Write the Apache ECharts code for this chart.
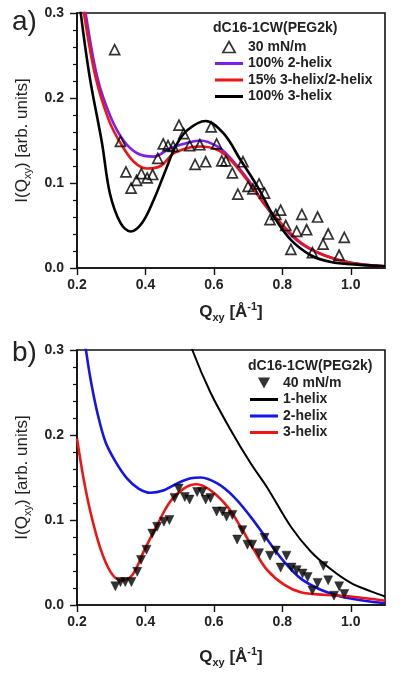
<!DOCTYPE html>
<html>
<head>
<meta charset="utf-8">
<script src="https://cdn.jsdelivr.net/npm/echarts@6/dist/echarts.min.js"></script>
<style>
html,body{margin:0;padding:0;background:#fff;}
#c{width:400px;height:675px;}
</style>
</head>
<body>
<div id="c"></div>
<script>
// ---------- Panel a) data ----------
const xTicks = [0.2, 0.4, 0.6, 0.8, 1.0];
const yTicks = [0.0, 0.1, 0.2, 0.3];
const legendTitle = 'dC16-1CW(PEG2k)';

const a_points30 = [
  [0.310,0.257],[0.327,0.149],[0.343,0.113],[0.358,0.094],[0.374,0.103],[0.388,0.111],
  [0.405,0.106],[0.421,0.110],[0.436,0.129],[0.452,0.146],[0.466,0.144],[0.481,0.143],
  [0.498,0.168],[0.512,0.158],[0.529,0.144],[0.545,0.122],[0.559,0.145],[0.576,0.125],
  [0.592,0.166],[0.608,0.146],[0.623,0.126],[0.635,0.126],[0.654,0.112],[0.670,0.087],
  [0.685,0.125],[0.700,0.096],[0.714,0.093],[0.732,0.099],[0.748,0.088],[0.764,0.057],
  [0.781,0.063],[0.795,0.068],[0.810,0.050],[0.825,0.022],[0.842,0.043],[0.857,0.063],
  [0.871,0.045],[0.888,0.018],[0.903,0.060],[0.919,0.028],[0.934,0.040],[0.966,0.015],
  [0.981,0.036]
];
const a_helix2 = [
  [0.200,0.370],[0.224,0.303],[0.259,0.225],[0.298,0.178],[0.336,0.150],[0.376,0.135],
  [0.424,0.131],[0.473,0.141],[0.522,0.147],[0.560,0.150],[0.610,0.143],[0.649,0.129],
  [0.698,0.105],[0.746,0.076],[0.795,0.051],[0.854,0.029],[0.922,0.015],[1.000,0.006],
  [1.100,0.002]
];
const a_mix15 = [
  [0.200,0.360],[0.219,0.303],[0.254,0.225],[0.293,0.174],[0.327,0.147],[0.366,0.125],
  [0.405,0.117],[0.444,0.120],[0.483,0.135],[0.532,0.142],[0.561,0.143],[0.610,0.139],
  [0.649,0.127],[0.698,0.103],[0.746,0.076],[0.795,0.053],[0.854,0.030],[0.922,0.015],
  [1.000,0.006],[1.100,0.002]
];
const a_helix3 = [
  [0.200,0.345],[0.210,0.303],[0.237,0.225],[0.273,0.147],[0.296,0.088],[0.327,0.053],
  [0.356,0.043],[0.390,0.053],[0.424,0.080],[0.459,0.115],[0.488,0.143],[0.522,0.162],
  [0.576,0.173],[0.629,0.158],[0.678,0.127],[0.727,0.096],[0.776,0.060],[0.825,0.033],
  [0.883,0.015],[0.942,0.007],[1.020,0.004],[1.100,0.002]
];

// ---------- Panel b) data ----------
const b_points40 = [
  [0.312,0.022],[0.327,0.027],[0.341,0.027],[0.359,0.027],[0.376,0.039],[0.387,0.053],
  [0.403,0.065],[0.420,0.084],[0.434,0.092],[0.454,0.098],[0.470,0.100],[0.485,0.126],
  [0.497,0.137],[0.515,0.127],[0.529,0.124],[0.551,0.133],[0.566,0.133],[0.576,0.124],
  [0.590,0.126],[0.608,0.110],[0.625,0.110],[0.637,0.104],[0.654,0.106],[0.668,0.077],
  [0.683,0.088],[0.698,0.071],[0.712,0.071],[0.732,0.061],[0.748,0.079],[0.764,0.058],
  [0.781,0.064],[0.795,0.044],[0.812,0.058],[0.827,0.044],[0.842,0.041],[0.859,0.037],
  [0.874,0.033],[0.888,0.017],[0.903,0.026],[0.920,0.046],[0.934,0.029],[0.951,0.011],
  [0.966,0.022],[0.981,0.013]
];
const b_helix1 = [
  [0.500,0.345],[0.537,0.300],[0.590,0.250],[0.649,0.206],[0.707,0.167],[0.756,0.138],
  [0.825,0.092],[0.883,0.063],[0.942,0.042],[1.000,0.026],[1.059,0.016],[1.100,0.010]
];
const b_helix2 = [
  [0.200,0.370],[0.224,0.306],[0.239,0.267],[0.259,0.227],[0.283,0.192],[0.312,0.169],
  [0.346,0.149],[0.380,0.137],[0.415,0.132],[0.454,0.135],[0.493,0.143],[0.532,0.149],
  [0.561,0.150],[0.610,0.143],[0.659,0.127],[0.707,0.104],[0.756,0.077],[0.805,0.051],
  [0.854,0.031],[0.912,0.018],[0.971,0.010],[1.039,0.005],[1.100,0.002]
];
const b_helix3 = [
  [0.200,0.196],[0.219,0.149],[0.239,0.110],[0.268,0.067],[0.298,0.039],[0.327,0.029],
  [0.361,0.035],[0.395,0.063],[0.434,0.094],[0.473,0.122],[0.512,0.137],[0.549,0.142],
  [0.590,0.135],[0.639,0.116],[0.678,0.092],[0.717,0.065],[0.756,0.041],[0.805,0.024],
  [0.854,0.015],[0.922,0.012],[1.000,0.010],[1.100,0.005]
];

const FONT = '"Liberation Sans", Arial, sans-serif';
const TXT = '#222';
const AX = '#111';
const C_PURPLE = '#7a1ff0', C_RED = '#f01414', C_BLUE = '#1414ee', C_BLACK = '#000000';

function xAxisCfg(gridIndex, gap) {
  return {
    type: 'value', gridIndex, min: 0.2, max: 1.1, interval: 0.2,
    axisLine: { show: true, onZero: false, lineStyle: { color: AX, width: 1.6 } },
    axisTick: { show: true, length: 7, lineStyle: { color: AX, width: 1.4 } },
    splitLine: { show: false },
    axisLabel: {
      showMaxLabel: false, margin: 10, color: TXT, fontFamily: FONT, fontSize: 14, fontWeight: 'bold',
      formatter: v => (xTicks.some(t => Math.abs(t - v) < 1e-6) ? v.toFixed(1) : '')
    },
    name: '{b|Q}{sub|xy}{b| [Å}{sup|-1}{b|]}',
    nameLocation: 'middle', nameGap: gap,
    nameTextStyle: {
      color: TXT, fontFamily: FONT,
      rich: {
        b: { fontSize: 17, fontWeight: 'bold', color: TXT, fontFamily: FONT, lineHeight: 22, verticalAlign: 'middle' },
        sub: { fontSize: 11, fontWeight: 'bold', color: TXT, fontFamily: FONT, lineHeight: 11, verticalAlign: 'bottom' },
        sup: { fontSize: 11, fontWeight: 'bold', color: TXT, fontFamily: FONT, lineHeight: 11, verticalAlign: 'top' }
      }
    }
  };
}
function yAxisCfg(gridIndex) {
  return {
    type: 'value', gridIndex, min: 0, max: 0.3, interval: 0.1,
    axisLine: { show: true, onZero: false, lineStyle: { color: AX, width: 1.6 } },
    axisTick: { show: true, length: 7, lineStyle: { color: AX, width: 1.4 } },
    minorTick: { show: true, splitNumber: 5, length: 4, lineStyle: { color: AX, width: 1.2 } },
    splitLine: { show: false },
    axisLabel: {
      margin: 13, color: TXT, fontFamily: FONT, fontSize: 14, fontWeight: 'bold',
      formatter: v => (yTicks.some(t => Math.abs(t - v) < 1e-6) ? v.toFixed(1) : '')
    },
    name: '{n|I(Q}{sub|xy}{n|) [arb. units]}',
    nameLocation: 'middle', nameGap: 43, nameRotate: 90,
    nameTextStyle: {
      color: TXT, fontFamily: FONT,
      rich: {
        n: { fontSize: 17, color: TXT, fontFamily: FONT, lineHeight: 22, verticalAlign: 'middle' },
        sub: { fontSize: 11, color: TXT, fontFamily: FONT, lineHeight: 11, verticalAlign: 'bottom' }
      }
    }
  };
}
function lineSeries(name, data, color, width, idx, z) {
  return {
    name, type: 'line', data, xAxisIndex: idx, yAxisIndex: idx, smooth: 0.35,
    symbol: 'none', showSymbol: false, clip: true, z,
    lineStyle: { color, width }, itemStyle: { color }
  };
}
const LINE_ICON = 'path://M0,0L28,0L28,3L0,3Z';
function lineLegend(name, color) {
  return { name, icon: LINE_ICON, itemStyle: { color, borderWidth: 0 } };
}
const legendText = { fontFamily: FONT, fontSize: 14, fontWeight: 'bold', color: TXT };

const chart = echarts.init(document.getElementById('c'), null, { renderer: 'canvas' });
chart.setOption({
  animation: false,
  backgroundColor: '#fff',
  title: [
    { text: 'a)', left: 12, top: 8, padding: 0, textStyle: { fontFamily: FONT, fontSize: 28, fontWeight: 'normal', color: TXT } },
    { text: legendTitle, left: 213, top: 21, padding: 0, textStyle: legendText },
    { text: 'b)', left: 12, top: 339, padding: 0, textStyle: { fontFamily: FONT, fontSize: 28, fontWeight: 'normal', color: TXT } },
    { text: legendTitle, left: 248, top: 359, padding: 0, textStyle: legendText }
  ],
  grid: [
    { left: 77, right: 15, top: 13, height: 255, show: true, borderColor: AX, borderWidth: 1.6, backgroundColor: 'transparent' },
    { left: 77, right: 15, top: 350, height: 255, show: true, borderColor: AX, borderWidth: 1.6, backgroundColor: 'transparent' }
  ],
  xAxis: [xAxisCfg(0, 33), xAxisCfg(1, 41)],
  yAxis: [yAxisCfg(0), yAxisCfg(1)],
  legend: [
    {
      data: [
        { name: '30 mN/m', icon: 'path://M5,0L10,9L0,9Z',
          itemStyle: { color: 'rgba(255,255,255,0)', borderColor: '#000', borderWidth: 1.7 } },
        lineLegend('100% 2-helix', C_PURPLE),
        lineLegend('15% 3-helix/2-helix', C_RED),
        lineLegend('100% 3-helix', C_BLACK)
      ],
      orient: 'vertical', left: 215, top: 40, padding: 0, itemWidth: 28, itemHeight: 11, itemGap: 2.5,
      symbolKeepAspect: true, textStyle: legendText, selectedMode: false
    },
    {
      data: [
        { name: '40 mN/m', icon: 'path://M0,0L10,0L5,9Z',
          itemStyle: { color: '#000', borderWidth: 0 } },
        lineLegend('1-helix', C_BLACK),
        lineLegend('2-helix', C_BLUE),
        lineLegend('3-helix', C_RED)
      ],
      orient: 'vertical', left: 250, top: 376, padding: 0, itemWidth: 28, itemHeight: 11, itemGap: 2.5,
      symbolKeepAspect: true, textStyle: legendText, selectedMode: false
    }
  ],
  series: [
    lineSeries('100% 2-helix', a_helix2, C_PURPLE, 2.6, 0, 2),
    lineSeries('15% 3-helix/2-helix', a_mix15, C_RED, 2.6, 0, 3),
    lineSeries('100% 3-helix', a_helix3, C_BLACK, 2.6, 0, 4),
    {
      name: '30 mN/m', type: 'scatter', data: a_points30, xAxisIndex: 0, yAxisIndex: 0, z: 6,
      symbol: 'triangle', symbolSize: 10,
      itemStyle: { color: 'rgba(255,255,255,0)', borderColor: '#000', borderWidth: 1.7 }
    },
    lineSeries('1-helix', b_helix1, C_BLACK, 2.0, 1, 2),
    lineSeries('2-helix', b_helix2, C_BLUE, 2.6, 1, 3),
    lineSeries('3-helix', b_helix3, C_RED, 2.6, 1, 4),
    {
      name: '40 mN/m', type: 'scatter', data: b_points40, xAxisIndex: 1, yAxisIndex: 1, z: 6,
      symbol: 'triangle', symbolSize: 9, symbolRotate: 180,
      itemStyle: { color: '#000', borderColor: '#000', borderWidth: 0.5 }
    }
  ]
});
</script>
</body>
</html>
